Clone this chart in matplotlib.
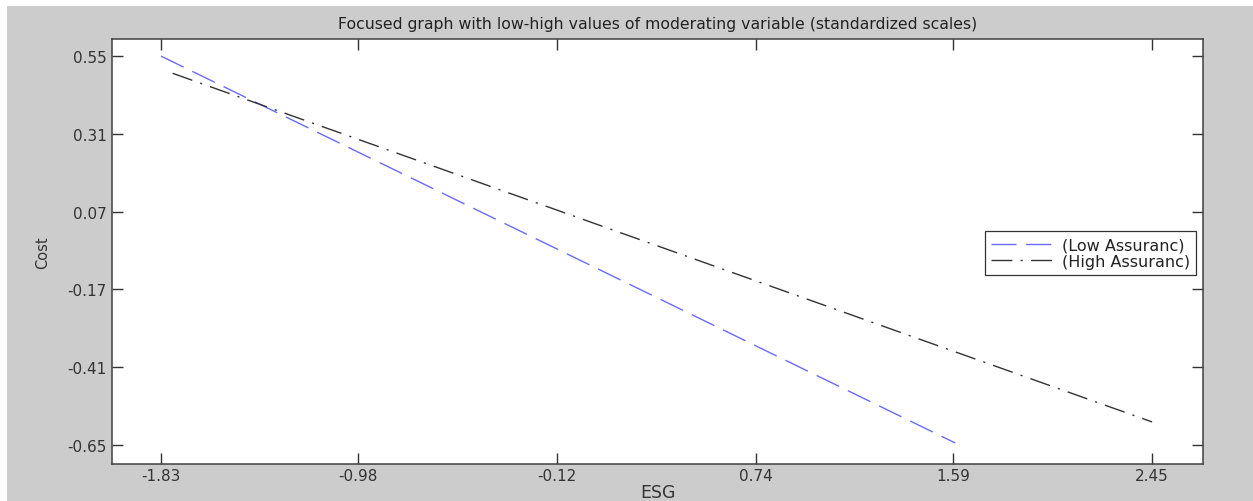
import matplotlib.pyplot as plt
from matplotlib.patches import Rectangle

plt.rcParams["font.family"] = ["DejaVu Sans"]

# ===============================
esg_low = [-1.83, 1.60]
cost_low = [0.55, -0.645]
esg_high = [-1.78, 2.45]
cost_high = [0.497, -0.58]

x_ticks = [-1.83, -0.98, -0.12, 0.74, 1.59, 2.45]
y_ticks = [0.55, 0.31, 0.07, -0.17, -0.41, -0.65]

title = "Focused graph with low-high values of moderating variable (standardized scales)"

# ===============================
W, H = 1253, 502
fig = plt.figure(figsize=(W / 100, H / 100), dpi=100)
fig.patch.set_facecolor("white")
bg = Rectangle((7 / W, 0), 1 - 7 / W, 1 - 7 / H, transform=fig.transFigure,
               facecolor="#cccccc", edgecolor="none", zorder=-10)
fig.add_artist(bg)

ax = fig.add_axes([112 / W, 37 / H, 1091 / W, 425 / H])
ax.set_zorder(5)
ax.set_facecolor("white")

ax.plot(esg_low, cost_low, color="#6a6aff", lw=1.0, dashes=(18, 7), label="(Low Assuranc)")
ax.plot(esg_high, cost_high, color="#333333", lw=1.0, dashes=(15, 6, 1.5, 6), label="(High Assuranc)")

ax.set_xlim(-2.042, 2.67)
ax.set_ylim(-0.71, 0.603)
ax.set_xticks(x_ticks)
ax.set_xticklabels([f"{v:.2f}" for v in x_ticks])
ax.set_yticks(y_ticks)
ax.set_yticklabels([f"{v:.2f}" for v in y_ticks])
ax.tick_params(direction="in", length=8, width=1, color="#333333", labelcolor="#333333",
               labelsize=11, top=True, right=True, pad=4)
ax.tick_params(axis="x", pad=3)
for s in ax.spines.values():
    s.set_color("#404040")
    s.set_linewidth(1.1)

ax.set_title(title, fontsize=11.3, color="#222222", pad=8)
ax.set_xlabel("ESG", fontsize=12.5, color="#333333", labelpad=0)
ax.set_ylabel("Cost", fontsize=10.5, color="#333333", labelpad=12)

leg = ax.legend(loc="upper right", bbox_to_anchor=(0.9936, 0.548), fontsize=11.5,
                fancybox=False, framealpha=1, edgecolor="#333333", handlelength=4.1,
                borderaxespad=0, borderpad=0.4, labelspacing=0.1, handletextpad=0.3)
leg.get_frame().set_linewidth(0.9)
for t in leg.get_texts():
    t.set_color("#222222")

fig.savefig("out.png", dpi=100)
